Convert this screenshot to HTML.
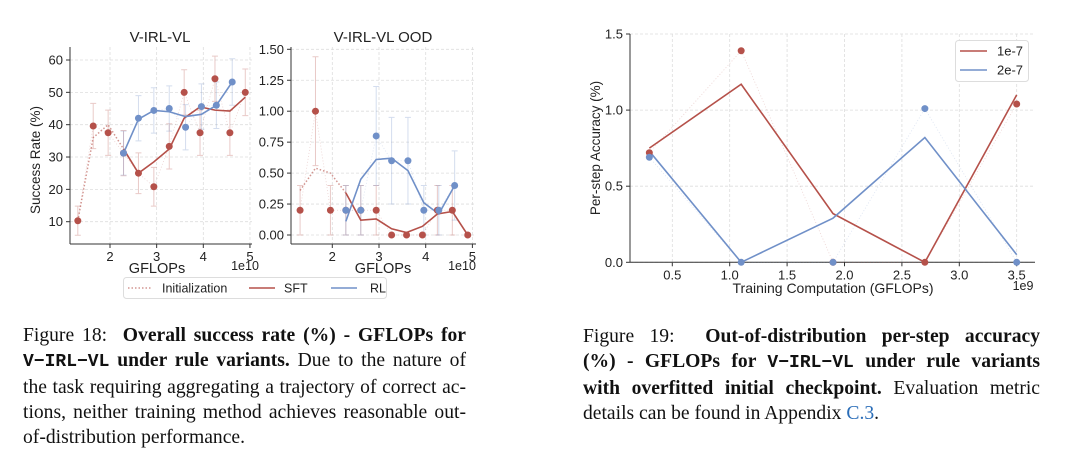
<!DOCTYPE html>
<html><head><meta charset="utf-8">
<style>
html,body{margin:0;padding:0;background:#fff;width:1080px;height:457px;overflow:hidden;position:relative}
svg{position:absolute;left:0;top:0}
svg text{font-family:"Liberation Sans","DejaVu Sans",sans-serif;fill:#222}
.cap{position:absolute;font-family:"Liberation Serif",serif;font-size:19.6px;line-height:25px;color:#111}
.cap div{text-align:justify;text-align-last:justify;white-space:nowrap}
.cap div.last{text-align-last:left}
.cap .m{font-family:"Liberation Mono",monospace;font-weight:bold;font-size:18px}
.cap a{color:#2a6db8;text-decoration:none}
</style></head><body>
<svg id="fig" width="1080" height="457" viewBox="0 0 1080 457"></svg>

<div class="cap" style="left:23px;top:323px;width:443px">
<div>Figure 18: &nbsp;<b>Overall success rate (%) - GFLOPs for</b></div>
<div><b><span class="m">V−IRL−VL</span> under rule variants.</b> Due to the nature of</div>
<div>the task requiring aggregating a trajectory of correct ac-</div>
<div>tions, neither training method achieves reasonable out-</div>
<div class="last">of-distribution performance.</div>
</div>
<div class="cap" style="left:583px;top:324px;width:457px">
<div>Figure 19: &nbsp;<b>Out-of-distribution per-step accuracy</b></div>
<div><b>(%) - GFLOPs for <span class="m">V−IRL−VL</span> under rule variants</b></div>
<div><b>with overfitted initial checkpoint.</b> Evaluation metric</div>
<div class="last">details can be found in Appendix <a>C.3</a>.</div>
</div>

<script>
// ---- Chart 1: V-IRL-VL ----
const c1SftX = [1.31,1.64,1.96,2.29,2.61,2.94,3.27,3.59,3.93,4.25,4.57,4.90];
const c1SftY = [10.3,39.6,37.5,31.2,25,20.8,33.3,50,37.5,54.2,37.5,50];
const c1SftErr = [4.5,7,7,7,6.3,6,7,7,7,7,7,7.2];
const c1InitY = [10.3,36,40,32.5];
const c1SftSmooth = [32.5,25,28.5,32.5,42,45.5,44.5,44.2,48.5];
const c1RlX = [2.29,2.61,2.94,3.27,3.62,3.96,4.28,4.62];
const c1RlY = [31.2,42,44.4,45,39.2,45.6,46,53.2];
const c1RlErr = [6.8,7,7,7,7,7,7.2,7.2];
const c1RlSmooth = [31.2,41.7,44.4,44,42.5,43.2,46,53.2];
const c1YTicks = [10,20,30,40,50,60];
const c1XTicks = [2,3,4,5];
// ---- Chart 2: V-IRL-VL OOD ----
const c2SftX = [1.31,1.64,1.96,2.29,2.61,2.94,3.27,3.59,3.93,4.25,4.57,4.90];
const c2SftY = [0.2,1.0,0.2,0.2,0.2,0.2,0,0,0,0.2,0.2,0];
const c2SftErr = [0.2,0.44,0.2,0.2,0.2,0.2,0,0,0,0.2,0.2,0];
const c2InitY = [0.36,0.54,0.5,0.34];
const c2SftSmooth = [0.34,0.12,0.13,0.05,0.02,0.07,0.17,0.19,0.0];
const c2RlX = [2.29,2.61,2.94,3.27,3.62,3.96,4.28,4.62];
const c2RlY = [0.2,0.2,0.8,0.6,0.6,0.2,0.2,0.4];
const c2RlErr = [0.2,0.2,0.4,0.35,0.35,0.2,0.2,0.28];
const c2RlSmooth = [0.11,0.45,0.61,0.62,0.52,0.26,0.17,0.4];
const c2YTicks = [0,0.25,0.5,0.75,1.0,1.25,1.5];
const c2XTicks = [2,3,4,5];
// ---- Chart 3: per-step accuracy ----
const c3X = [0.3,1.1,1.9,2.7,3.5];
const c3RedY = [0.72,1.39,0,0,1.04];
const c3RedSmooth = [0.75,1.17,0.32,0,1.1];
const c3BlueY = [0.69,0,0,1.01,0];
const c3BlueSmooth = [0.73,0,0.29,0.82,0.05];
const c3YTicks = [0,0.5,1.0,1.5];
const c3XTicks = [0.5,1.0,1.5,2.0,2.5,3.0,3.5];

const RED='#b5514a', BLUE='#7090c8';
const svg=document.getElementById('fig');
const NS='http://www.w3.org/2000/svg';
function mk(tag,attrs,parent){const e=document.createElementNS(NS,tag);for(const k in attrs)e.setAttribute(k,attrs[k]);(parent||svg).appendChild(e);return e;}
function txt(s,x,y,size,anchor,parent,extra){const t=mk('text',Object.assign({x:x,y:y,'font-size':size,'text-anchor':anchor||'middle'},extra||{}),parent);t.textContent=s;return t;}
function lin(x0,x1,p0,p1){return v=>p0+(v-x0)/(x1-x0)*(p1-p0);}
function poly(xs,ys,sx,sy,attrs,parent){return mk('polyline',Object.assign({points:xs.map((x,i)=>sx(x)+','+sy(ys[i])).join(' '),fill:'none'},attrs),parent);}

function axes(g,sx,sy,L,R,T,B,xt,yt,fmtY,fmtX){
  xt.forEach(v=>{const l=mk('line',{x1:sx(v),x2:sx(v),y1:T,y2:B,stroke:'#ddd','stroke-dasharray':'3,2','stroke-width':0.8},g);
    
    mk('line',{x1:sx(v),x2:sx(v),y1:B,y2:B+4,stroke:'#333'},g);
    const t=txt(fmtX(v),sx(v),B+17,13,'middle',g);});
  yt.forEach(v=>{const l=mk('line',{x1:L,x2:R,y1:sy(v),y2:sy(v),stroke:'#ddd','stroke-dasharray':'3,2','stroke-width':0.8},g);
    
    mk('line',{x1:L-4,x2:L,y1:sy(v),y2:sy(v),stroke:'#333'},g);
    const t=txt(fmtY(v),L-7,sy(v)+4.5,13,'end',g);});
  mk('line',{x1:L,x2:L,y1:T,y2:B,stroke:'#333','stroke-width':1},g);
  mk('line',{x1:L,x2:R,y1:B,y2:B,stroke:'#333','stroke-width':1},g);
}
function errs(g,xs,ys,es,sx,sy,col){xs.forEach((x,i)=>{if(!es[i])return;const X=sx(x),y0=sy(ys[i]-es[i]),y1=sy(ys[i]+es[i]);
  const e=mk('path',{d:`M${X},${y0}V${y1}M${X-3},${y0}H${X+3}M${X-3},${y1}H${X+3}`,stroke:col,'stroke-opacity':0.3,'stroke-width':1,fill:'none'},g);
  });}
function dots(g,xs,ys,sx,sy,col,r,name){xs.forEach((x,i)=>{const c=mk('circle',{cx:sx(x),cy:sy(ys[i]),r:r,fill:col},g);
  });}

function panel(name,L,R,T,B,xd,yd,xt,yt,fmtY,d){
  const g=mk('g',{});
  const sx=lin(xd[0],xd[1],xd[2],xd[3]), sy=lin(yd[0],yd[1],yd[2],yd[3]);
  axes(g,sx,sy,L,R,T,B,xt,yt,fmtY,v=>String(v));
  errs(g,d.sx,d.sy,d.se,sx,sy,RED); errs(g,d.rx,d.ry,d.re,sx,sy,BLUE);
  poly(d.sx,d.sy,sx,sy,{stroke:RED,'stroke-opacity':0.25,'stroke-width':0.8,'stroke-dasharray':'1,2'},g);
  poly(d.rx,d.ry,sx,sy,{stroke:BLUE,'stroke-opacity':0.25,'stroke-width':0.8,'stroke-dasharray':'1,2'},g);
  const ix=d.sx.slice(0,4);
  const p0=poly(ix,d.init,sx,sy,{stroke:RED,'stroke-opacity':0.6,'stroke-width':1.5,'stroke-dasharray':'1.5,2'},g);
  
  const p1=poly(d.sx.slice(3),d.ss,sx,sy,{stroke:RED,'stroke-width':1.6},g);
  
  const p2=poly(d.rx,d.rs,sx,sy,{stroke:BLUE,'stroke-width':1.6},g);
  
  dots(g,d.sx,d.sy,sx,sy,RED,3.5,'sft-point'); dots(g,d.rx,d.ry,sx,sy,BLUE,3.5,'rl-point');
  return g;
}

const g1=panel('chart-v-irl-vl',70,252,47,244,[2,4,110,203.3],[10,60,221.7,60],c1XTicks,c1YTicks,v=>String(v),
  {sx:c1SftX,sy:c1SftY,se:c1SftErr,init:c1InitY,ss:c1SftSmooth,rx:c1RlX,ry:c1RlY,re:c1RlErr,rs:c1RlSmooth});
let t;
t=txt('V-IRL-VL',160,42,15,'middle',g1);
t=txt('Success Rate (%)',0,0,13.5,'middle',g1,{transform:'translate(40,160) rotate(-90)'});
t=txt('GFLOPs',157,273,14.5,'middle',g1);
t=txt('1e10',245,270,12.5,'middle',g1);

const g2=panel('chart-v-irl-vl-ood',291,476,47,244,[2,4,332.3,425.7],[0,1.5,235,49.3],c2XTicks,c2YTicks,v=>v.toFixed(2),
  {sx:c2SftX,sy:c2SftY,se:c2SftErr,init:c2InitY,ss:c2SftSmooth,rx:c2RlX,ry:c2RlY,re:c2RlErr,rs:c2RlSmooth});
t=txt('V-IRL-VL OOD',383,42,15,'middle',g2);
t=txt('GFLOPs',383,273,14.5,'middle',g2);
t=txt('1e10',462,270,12.5,'middle',g2);

// shared legend
const lg=mk('g',{});
mk('rect',{x:123.5,y:277.5,width:263,height:21,rx:3,fill:'#fff',stroke:'#ddd'},lg);
mk('line',{x1:128,x2:152,y1:288,y2:288,stroke:RED,'stroke-opacity':0.6,'stroke-width':1.5,'stroke-dasharray':'1.5,2'},lg);
t=txt('Initialization',162,292.5,12.5,'start',lg);
mk('line',{x1:249,x2:275,y1:288,y2:288,stroke:RED,'stroke-width':1.6},lg);
t=txt('SFT',284,292.5,12.5,'start',lg);
mk('line',{x1:331,x2:357,y1:288,y2:288,stroke:BLUE,'stroke-width':1.6},lg);
t=txt('RL',370,292.5,12.5,'start',lg);

// chart 3
const g3=mk('g',{});
const sx3=lin(0.5,3.5,672.3,1016.7), sy3=lin(0,1.5,262.3,34);
axes(g3,sx3,sy3,630,1035,34,262.3,c3XTicks,c3YTicks,v=>v.toFixed(1),v=>v.toFixed(1));
poly(c3X,c3RedY,sx3,sy3,{stroke:RED,'stroke-opacity':0.25,'stroke-width':0.8,'stroke-dasharray':'1,2'},g3);
poly(c3X,c3BlueY,sx3,sy3,{stroke:BLUE,'stroke-opacity':0.25,'stroke-width':0.8,'stroke-dasharray':'1,2'},g3);
let p=poly(c3X,c3RedSmooth,sx3,sy3,{stroke:RED,'stroke-width':1.6},g3);

p=poly(c3X,c3BlueSmooth,sx3,sy3,{stroke:BLUE,'stroke-width':1.6},g3);

dots(g3,c3X,c3RedY,sx3,sy3,RED,3.5,'point-1e-7');
dots(g3,c3X,c3BlueY,sx3,sy3,BLUE,3.5,'point-2e-7');
t=txt('Per-step Accuracy (%)',0,0,13.5,'middle',g3,{transform:'translate(600,148) rotate(-90)'});
t=txt('Training Computation (GFLOPs)',833,293,14,'middle',g3);
t=txt('1e9',1023,290,12.5,'middle',g3);
const lg3=mk('g',{},g3);
mk('rect',{x:955.5,y:40.5,width:73,height:41,rx:3,fill:'#fff',stroke:'#ddd'},lg3);
mk('line',{x1:960,x2:987,y1:51,y2:51,stroke:RED,'stroke-width':1.6},lg3);
t=txt('1e-7',997,55.5,13,'start',lg3);
mk('line',{x1:960,x2:987,y1:70,y2:70,stroke:BLUE,'stroke-width':1.6},lg3);
t=txt('2e-7',997,74.5,13,'start',lg3);
</script>
</body></html>
